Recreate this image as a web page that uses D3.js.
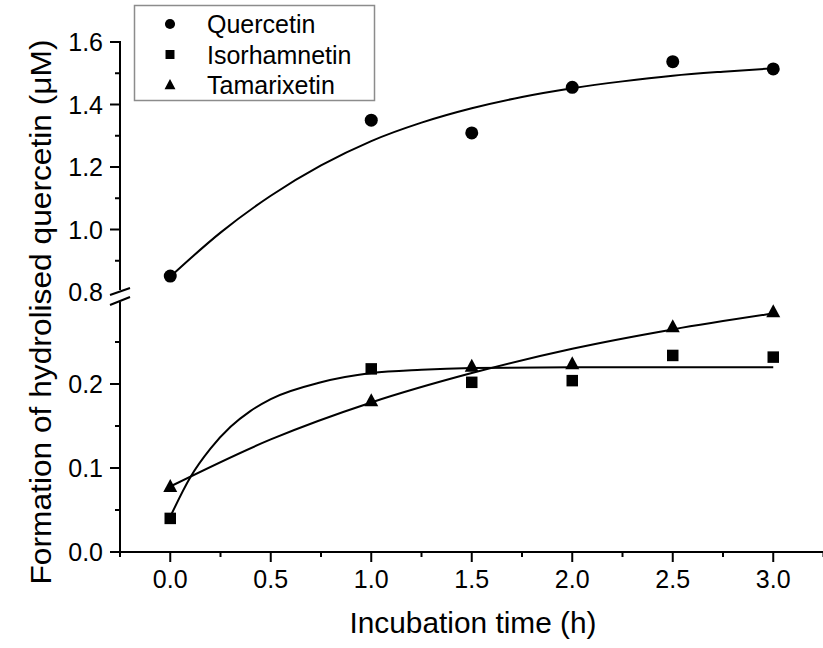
<!DOCTYPE html>
<meta charset="utf-8">
<style>
    body { margin: 0; background: #fff; }
    svg { display: block; font-family: "Liberation Sans", Arial, sans-serif; }
    .tick-label { font-size: 25px; fill: #000; }
    .axis-title { font-size: 29px; fill: #000; }
    .legend-text { font-size: 25px; fill: #000; }
</style>
<svg id="chart" width="823" height="648"></svg>
<script src="https://cdn.jsdelivr.net/npm/d3@7"></script>
<script>
    // measured points
    var times = [0, 1, 1.5, 2, 2.5, 3];
    var quercetin = [0.851, 1.350, 1.309, 1.455, 1.537, 1.514];
    var isorhamnetin = [0.040, 0.218, 0.202, 0.204, 0.234, 0.232];
    var tamarixetin = [0.078, 0.180, 0.221, 0.224, 0.268, 0.286];

    // fitted curves
    var qFitT = [0, 0.25, 0.5, 0.75, 1, 1.25, 1.5, 1.75, 2, 2.25, 2.5, 2.75, 3];
    var qFit = [0.849, 0.99, 1.108, 1.205, 1.283, 1.342, 1.388, 1.424, 1.452, 1.474, 1.492, 1.505, 1.516];
    var iFitT = [0, 0.1, 0.2, 0.3, 0.4, 0.5, 0.75, 1, 1.25, 1.5, 2, 2.5, 3];
    var iFit = [0.042, 0.089, 0.123, 0.149, 0.168, 0.182, 0.202, 0.213, 0.217, 0.219, 0.22, 0.22, 0.22];
    var tFitT = [0, 0.5, 1, 1.5, 2, 2.5, 3];
    var tFit = [0.078, 0.134, 0.178, 0.213, 0.242, 0.265, 0.284];

    var seriesNames = ["Quercetin", "Isorhamnetin", "Tamarixetin"];
    var xMajor = [0, 0.5, 1, 1.5, 2, 2.5, 3];
    var xMinor = [-0.25, 0.25, 0.75, 1.25, 1.75, 2.25, 2.75, 3.25];
    var yTopMajor = [1.0, 1.2, 1.4, 1.6];
    var yTopMinor = [0.9, 1.1, 1.3, 1.5];
    var yBotMajor = [0.0, 0.1, 0.2];
    var yBotMinor = [0.05, 0.15, 0.25];

    var svg = d3.select("#chart");

    var x = d3.scaleLinear().domain([-0.25, 3.25]).range([120, 823.5]);
    var yTop = d3.scaleLinear().domain([0.8, 1.6]).range([292, 42]);
    var yBot = d3.scaleLinear().domain([0, 0.3]).range([552, 300]);

    var ink = "#000";

    // ---- axes ----
    var ax = svg.append("g").attr("stroke", ink).attr("stroke-width", 2).attr("fill", "none");
    // x axis line
    ax.append("line").attr("x1", x.range()[0] - 1).attr("x2", x.range()[1]).attr("y1", yBot(0)).attr("y2", yBot(0));
    xMajor.forEach(function (d) {
        ax.append("line").attr("x1", x(d)).attr("x2", x(d)).attr("y1", yBot(0)).attr("y2", yBot(0) + 10);
    });
    xMinor.forEach(function (d) {
        ax.append("line").attr("x1", x(d)).attr("x2", x(d)).attr("y1", yBot(0)).attr("y2", yBot(0) + 5);
    });

    // y axis, two segments
    var x0 = x.range()[0];
    ax.append("line").attr("x1", x0).attr("x2", x0).attr("y1", yTop(1.6) - 1).attr("y2", 290);
    ax.append("line").attr("x1", x0).attr("x2", x0).attr("y1", 302).attr("y2", yBot(0) + 1);
    yTopMajor.forEach(function (d) {
        ax.append("line").attr("x1", x0 - 10).attr("x2", x0).attr("y1", yTop(d)).attr("y2", yTop(d));
    });
    yTopMinor.forEach(function (d) {
        ax.append("line").attr("x1", x0 - 5).attr("x2", x0).attr("y1", yTop(d)).attr("y2", yTop(d));
    });
    yBotMajor.forEach(function (d) {
        ax.append("line").attr("x1", x0 - 10).attr("x2", x0).attr("y1", yBot(d)).attr("y2", yBot(d));
    });
    yBotMinor.forEach(function (d) {
        ax.append("line").attr("x1", x0 - 5).attr("x2", x0).attr("y1", yBot(d)).attr("y2", yBot(d));
    });
    // break marks
    ax.append("line").attr("x1", x0 - 10).attr("y1", 295).attr("x2", x0 + 10).attr("y2", 288);
    ax.append("line").attr("x1", x0 - 10).attr("y1", 305).attr("x2", x0 + 10).attr("y2", 297);

    // tick labels
    var fmt = d3.format(".1f");
    svg.append("g").selectAll("text").data(xMajor).enter().append("text")
        .attr("class", "tick-label")
        .attr("x", function (d) { return x(d); })
        .attr("y", 588)
        .attr("text-anchor", "middle")
        .text(fmt);
    svg.append("g").selectAll("text").data(yTopMajor.concat([0.8])).enter().append("text")
        .attr("class", "tick-label")
        .attr("x", 103)
        .attr("y", function (d) { return yTop(d) + 9; })
        .attr("text-anchor", "end")
        .text(fmt);
    svg.append("g").selectAll("text").data(yBotMajor).enter().append("text")
        .attr("class", "tick-label")
        .attr("x", 103)
        .attr("y", function (d) { return yBot(d) + 9; })
        .attr("text-anchor", "end")
        .text(fmt);

    // axis titles
    svg.append("text").attr("class", "axis-title")
        .attr("x", 473).attr("y", 633)
        .attr("text-anchor", "middle")
        .attr("textLength", 247).attr("lengthAdjust", "spacingAndGlyphs")
        .text("Incubation time (h)");
    svg.append("text").attr("class", "axis-title")
        .attr("transform", "translate(51,312) rotate(-90)")
        .attr("text-anchor", "middle")
        .attr("textLength", 545).attr("lengthAdjust", "spacingAndGlyphs")
        .text("Formation of hydrolised quercetin (\u03BCM)");

    // ---- curves ----
    var lineTop = d3.line()
        .x(function (d) { return x(d[0]); })
        .y(function (d) { return yTop(d[1]); })
        .curve(d3.curveMonotoneX);
    var lineBot = d3.line()
        .x(function (d) { return x(d[0]); })
        .y(function (d) { return yBot(d[1]); })
        .curve(d3.curveMonotoneX);

    var curves = svg.append("g").attr("fill", "none").attr("stroke", ink).attr("stroke-width", 2);
    curves.append("path").attr("d", lineTop(d3.zip(qFitT, qFit)));
    curves.append("path").attr("d", lineBot(d3.zip(iFitT, iFit)));
    curves.append("path").attr("d", lineBot(d3.zip(tFitT, tFit)));

    // ---- markers ----
    function triangle(w, h) {
        return "M0," + (-h * 0.58) + "L" + (w / 2) + "," + (h * 0.42) + "L" + (-w / 2) + "," + (h * 0.42) + "Z";
    }
    var shapes = {
        Quercetin: function (s) { return d3.symbol().type(d3.symbolCircle).size(Math.PI * 6.5 * 6.5 * s * s)(); },
        Isorhamnetin: function (s) { return d3.symbol().type(d3.symbolSquare).size(11.5 * 11.5 * s * s)(); },
        Tamarixetin: function (s) { return triangle(14 * s, 13 * s); }
    };

    var pts = svg.append("g").attr("fill", ink);
    pts.selectAll(".q").data(d3.zip(times, quercetin)).enter().append("path")
        .attr("d", shapes.Quercetin(1))
        .attr("transform", function (d) { return "translate(" + x(d[0]) + "," + yTop(d[1]) + ")"; });
    pts.selectAll(".i").data(d3.zip(times, isorhamnetin)).enter().append("path")
        .attr("d", shapes.Isorhamnetin(1))
        .attr("transform", function (d) { return "translate(" + x(d[0]) + "," + yBot(d[1]) + ")"; });
    pts.selectAll(".t").data(d3.zip(times, tamarixetin)).enter().append("path")
        .attr("d", shapes.Tamarixetin(1))
        .attr("transform", function (d) { return "translate(" + x(d[0]) + "," + yBot(d[1]) + ")"; });

    // ---- legend ----
    var legend = svg.append("g");
    legend.append("rect")
        .attr("x", 134.5).attr("y", 5.5).attr("width", 240).attr("height", 95)
        .attr("fill", "#fff").attr("stroke", "#8c8c8c").attr("stroke-width", 1.5);
    seriesNames.forEach(function (name, i) {
        var cy = 24 + i * 30.5;
        legend.append("path").attr("d", shapes[name](0.78))
            .attr("fill", ink)
            .attr("transform", "translate(170," + cy + ")");
        legend.append("text").attr("class", "legend-text")
            .attr("x", 207).attr("y", cy + 9)
            .text(name);
    });
</script>
